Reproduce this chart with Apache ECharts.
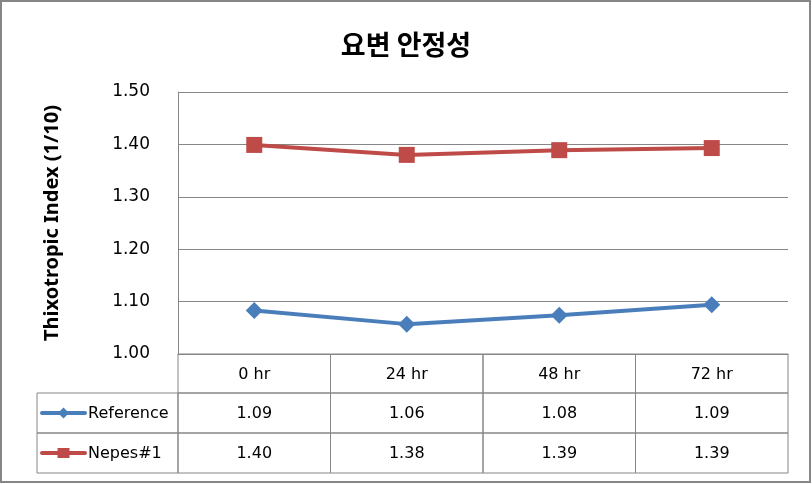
<!DOCTYPE html>
<html><head><meta charset="utf-8">
<script src="https://cdn.jsdelivr.net/npm/echarts@6/dist/echarts.min.js"></script>
<style>html,body{margin:0;padding:0;background:#fff}#c{width:812px;height:484px}</style>
</head><body><div id="c"></div>
<script>
const categories = ['0 hr', '24 hr', '48 hr', '72 hr'];
const referenceValues = [1.083, 1.057, 1.074, 1.094];
const nepesValues = [1.399, 1.380, 1.389, 1.393];
const referenceLabels = ['1.09', '1.06', '1.08', '1.09'];
const nepesLabels = ['1.40', '1.38', '1.39', '1.39'];
const seriesNames = ['Reference', 'Nepes#1'];
const yMin = 1.0, yMax = 1.5, yStep = 0.1;

const gridColor = '#868686';
const numFont = 'DejaVu Sans';
const colors = ['#4A7EBB', '#BE4B48'];
const rowH = [39, 40, 40];
const legendColLeft = 37;

const chart = echarts.init(document.getElementById('c'), null, {renderer: 'canvas'});

function renderTable(params, api) {
  const i = api.value(0);
  const p = api.coord([i, yMin]);
  const bw = api.size([1, 0])[0];
  const left = p[0] - bw / 2;
  const top = p[1];
  const children = [];
  const rowTexts = [categories[i], referenceLabels[i], nepesLabels[i]];
  let y = top;
  for (let r = 0; r < 3; r++) {
    children.push({type: 'rect', shape: {x: left, y: y, width: bw, height: rowH[r]},
      style: {fill: null, stroke: gridColor, lineWidth: 1}});
    children.push({type: 'text', style: {text: rowTexts[r], x: p[0], y: y + rowH[r] / 2 + 1,
      align: 'center', verticalAlign: 'middle', fill: '#000', font: '16px "' + numFont + '"'}});
    y += rowH[r];
  }
  if (i === 0) {
    let yy = top + rowH[0];
    for (let r = 1; r < 3; r++) {
      const s = r - 1;
      const cy = yy + rowH[r] / 2;
      const lx0 = legendColLeft + 5, lx1 = legendColLeft + 48, mx = (lx0 + lx1) / 2;
      children.push({type: 'rect', shape: {x: legendColLeft, y: yy, width: left - legendColLeft, height: rowH[r]},
        style: {fill: null, stroke: gridColor, lineWidth: 1}});
      children.push({type: 'line', shape: {x1: lx0, y1: cy, x2: lx1, y2: cy},
        style: {stroke: colors[s], lineWidth: 4, lineCap: 'round'}});
      if (s === 0) {
        children.push({type: 'polygon', shape: {points: [[mx, cy - 5.5], [mx + 5.5, cy], [mx, cy + 5.5], [mx - 5.5, cy]]},
          style: {fill: colors[s]}});
      } else {
        children.push({type: 'rect', shape: {x: mx - 6, y: cy - 5, width: 12, height: 10},
          style: {fill: colors[s]}});
      }
      children.push({type: 'text', style: {text: seriesNames[s], x: lx1 + 3, y: cy + 1,
        align: 'left', verticalAlign: 'middle', fill: '#000', font: '16px "' + numFont + '"'}});
      yy += rowH[r];
    }
  }
  return {type: 'group', children: children};
}

const option = {
  animation: false,
  backgroundColor: '#fff',
  title: {
    text: '요변 안정성', left: 'center', top: 26,
    textStyle: {fontFamily: 'Noto Sans CJK KR', fontSize: 27, fontWeight: 'bold', color: '#000'}
  },
  graphic: [{type: 'rect', shape: {x: 1, y: 1, width: 809, height: 481},
    style: {fill: null, stroke: gridColor, lineWidth: 2}, z: 100}],
  grid: {left: 178, right: 24, top: 92, bottom: 130},
  xAxis: {
    type: 'category', data: categories, boundaryGap: true,
    axisLabel: {show: false}, axisTick: {show: false},
    axisLine: {lineStyle: {color: gridColor, width: 1}}
  },
  yAxis: {
    type: 'value', min: yMin, max: yMax, interval: yStep,
    name: 'Thixotropic Index (1/10)', nameLocation: 'middle', nameGap: 116,
    nameTextStyle: {fontFamily: 'Noto Sans', fontSize: 20, fontWeight: 'bold', color: '#000'},
    axisLine: {show: true, lineStyle: {color: gridColor, width: 1}},
    axisTick: {show: false},
    axisLabel: {formatter: v => v.toFixed(2), margin: 28, fontFamily: numFont, fontSize: 17, color: '#000'},
    splitLine: {lineStyle: {color: gridColor, width: 1}}
  },
  series: [
    {name: seriesNames[0], type: 'line', data: referenceValues, symbol: 'diamond', symbolSize: 17,
      itemStyle: {color: colors[0]}, lineStyle: {color: colors[0], width: 4}},
    {name: seriesNames[1], type: 'line', data: nepesValues, symbol: 'rect', symbolSize: 16,
      itemStyle: {color: colors[1]}, lineStyle: {color: colors[1], width: 4}},
    {type: 'custom', renderItem: renderTable, clip: false, silent: true,
      data: categories.map((c, i) => [i, yMin]), encode: {x: 0, y: 1}, z: 1}
  ]
};
chart.setOption(option);
</script></body></html>
